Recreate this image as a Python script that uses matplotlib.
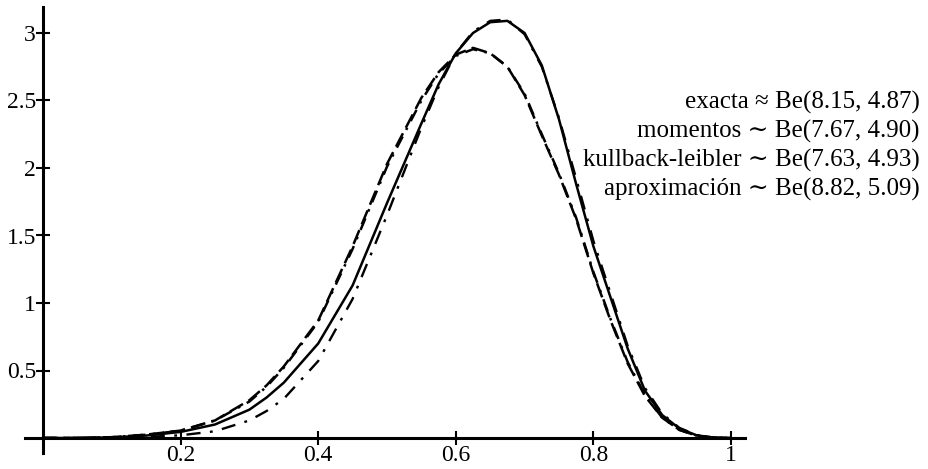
import matplotlib
matplotlib.use("Agg")
import matplotlib.pyplot as plt

x_vals = [0.0, 0.05, 0.1, 0.15, 0.2, 0.25, 0.3, 0.325, 0.35, 0.4, 0.45, 0.5, 0.55, 0.575,
          0.6, 0.625, 0.65, 0.675, 0.7, 0.725, 0.75, 0.775, 0.8, 0.825, 0.85, 0.875,
          0.9, 0.925, 0.95, 0.975, 1.0]

exacta = [0.0, 0.0002, 0.004, 0.018, 0.045, 0.10, 0.21, 0.30, 0.41, 0.70, 1.13, 1.74, 2.33, 2.62,
          2.85, 3.00, 3.08, 3.09, 3.00, 2.76, 2.36, 1.88, 1.42, 1.04, 0.66, 0.35,
          0.17, 0.07, 0.02, 0.003, 0.0]

momentos = [0.0, 0.0003, 0.006, 0.025, 0.055, 0.13, 0.28, 0.39, 0.53, 0.87, 1.42, 2.03, 2.52, 2.71,
            2.84, 2.89, 2.85, 2.75, 2.54, 2.24, 1.95, 1.62, 1.22, 0.87, 0.55, 0.31,
            0.15, 0.06, 0.017, 0.002, 0.0]

kullback = [0.0, 0.0003, 0.006, 0.024, 0.054, 0.13, 0.27, 0.38, 0.52, 0.86, 1.40, 2.01, 2.50, 2.70,
            2.83, 2.88, 2.85, 2.75, 2.55, 2.25, 1.96, 1.63, 1.23, 0.88, 0.56, 0.32,
            0.15, 0.06, 0.018, 0.002, 0.0]

aproximacion = [0.0, 0.0001, 0.002, 0.008, 0.02, 0.05, 0.13, 0.20, 0.29, 0.57, 1.03, 1.65, 2.30, 2.60,
                2.85, 3.01, 3.09, 3.10, 2.99, 2.75, 2.37, 1.92, 1.46, 1.07, 0.68, 0.37,
                0.18, 0.075, 0.022, 0.003, 0.0]

legend_lines = ["exacta \u2248 Be(8.15, 4.87)",
                "momentos \u223c Be(7.67, 4.90)",
                "kullback-leibler \u223c Be(7.63, 4.93)",
                "aproximaci\u00f3n \u223c Be(8.82, 5.09)"]

x_ticks = [0.2, 0.4, 0.6, 0.8, 1.0]
x_tick_labels = ["0.2", "0.4", "0.6", "0.8", "1"]
y_ticks = [0.5, 1.0, 1.5, 2.0, 2.5, 3.0]
y_tick_labels = ["0.5", "1", "1.5", "2", "2.5", "3"]

fonts = ["Liberation Serif", "DejaVu Serif"]
plt.rcParams["font.family"] = fonts

fig = plt.figure(figsize=(9.29, 4.69), dpi=100)
ax = fig.add_axes([0, 0, 1, 1])
ax.set_xlim(-43 / 688, (929 - 43) / 688)
ax.set_ylim(-31 / 135, 438 / 135)

ax.plot(x_vals, exacta, color="black", lw=1.8, solid_capstyle="round")
ax.plot(x_vals, momentos, color="black", lw=1.8, dashes=(6, 2.5))
ax.plot(x_vals, kullback, color="black", lw=1.8, dashes=(5, 3, 1, 3))
ax.plot(x_vals, aproximacion, color="black", lw=1.7, dashes=(6, 4, 1.2, 4))

for s in ["top", "right"]:
    ax.spines[s].set_visible(False)
ax.spines["left"].set_position(("data", 0))
ax.spines["bottom"].set_position(("data", 0))
ax.spines["left"].set_bounds(-0.11, 3.19)
ax.spines["bottom"].set_bounds(-0.026, 1.02)
ax.spines["left"].set_linewidth(2.2)
ax.spines["bottom"].set_linewidth(2.2)

ax.set_xticks(x_ticks)
ax.set_xticklabels(x_tick_labels)
ax.set_yticks(y_ticks)
ax.set_yticklabels(y_tick_labels)
ax.tick_params(axis="both", direction="inout", length=10, width=1.5, labelsize=17, pad=0)
ax.tick_params(axis="y", pad=0)

ypos = [102, 131, 160, 189]
for txt, yp in zip(legend_lines, ypos):
    fig.text(920 / 929, 1 - yp / 469, txt, ha="right", va="center", fontsize=18,
             family=fonts)

fig.savefig("out.png", dpi=100)
